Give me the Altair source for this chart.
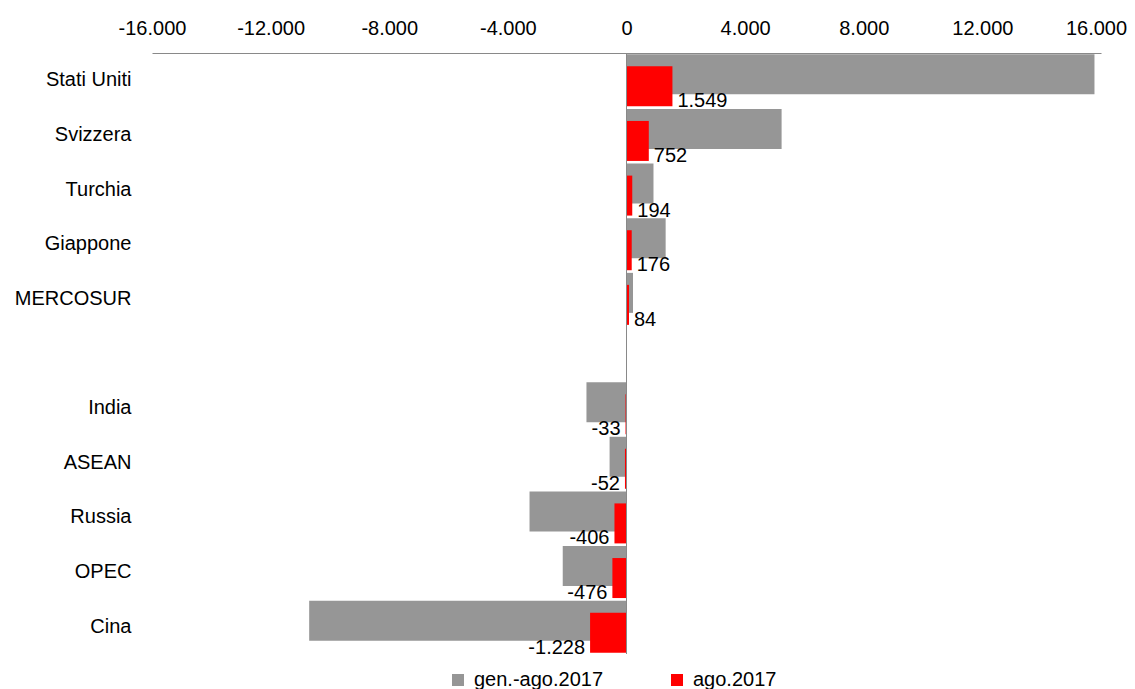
import altair as alt
import pandas as pd

categories = ["Stati Uniti", "Svizzera", "Turchia", "Giappone", "MERCOSUR", " ",
              "India", "ASEAN", "Russia", "OPEC", "Cina"]
gen_ago = [15780, 5230, 910, 1320, 220, None, -1350, -570, -3270, -2150, -10700]
ago = [1549, 752, 194, 176, 84, None, -33, -52, -406, -476, -1228]
series_names = ["gen.-ago.2017", "ago.2017"]
series_colors = ["#969696", "#ff0000"]
tick_values = [-16000, -12000, -8000, -4000, 0, 4000, 8000, 12000, 16000]

rows = []
for c, g, a in zip(categories, gen_ago, ago):
    if g is None:
        continue
    rows.append({"category": c, "series": series_names[0], "value": g})
    rows.append({"category": c, "series": series_names[1], "value": a})
df = pd.DataFrame(rows)

FONT = "Liberation Sans"
FS = 20

y = alt.Y("category:N",
          scale=alt.Scale(domain=categories, paddingInner=0, paddingOuter=0),
          axis=alt.Axis(title=None, ticks=False, domain=False, labelPadding=21,
                        labelFontSize=FS, labelColor="#000000", labelFont=FONT))
x = alt.X("value:Q",
          scale=alt.Scale(domain=[-16000, 16000], nice=False),
          axis=alt.Axis(orient="top", values=tick_values, format=",d", ticks=False,
                        grid=False, labelPadding=15, labelFontSize=FS,
                        labelFlush=False, labelOverlap=False,
                        labelOffset={"condition": {"test": "datum.value === 16000",
                                                   "value": -5},
                                     "value": 0},
                        labelColor="#000000", labelFont=FONT,
                        domainColor="#898989", domainWidth=1, title=None))
color = alt.Color("series:N",
                  scale=alt.Scale(domain=series_names, range=series_colors),
                  title=None,
                  legend=alt.Legend(orient="none", legendX=296, legendY=617,
                                    direction="horizontal", symbolType="square",
                                    symbolSize=144, symbolStrokeWidth=0,
                                    labelFontSize=FS, labelFont=FONT,
                                    labelColor="#000000", labelOffset=6,
                                    columnPadding=63))

base = alt.Chart(df)

gray_bars = base.transform_filter(alt.datum.series == series_names[0]).mark_bar(
    size=40, yOffset=-6).encode(x=x, x2=alt.datum(0), y=y, color=color)
red_bars = base.transform_filter(alt.datum.series == series_names[1]).mark_bar(
    size=40, yOffset=6).encode(x=x, x2=alt.datum(0), y=y, color=color)

zero_rule = alt.Chart(df).mark_rule(color="#898989", strokeWidth=1).encode(
    x=alt.datum(0))

pos_text = base.transform_filter(
    (alt.datum.series == series_names[1]) & (alt.datum.value >= 0)
).mark_text(align="left", baseline="middle", dx=5, dy=21, fontSize=FS,
            font=FONT, color="#000000").encode(
    x=x, y=y, text=alt.Text("value:Q", format=",d"))
neg_text = base.transform_filter(
    (alt.datum.series == series_names[1]) & (alt.datum.value < 0)
).mark_text(align="right", baseline="middle", dx=-5, dy=21, fontSize=FS,
            font=FONT, color="#000000").encode(
    x=x, y=y, text=alt.Text("value:Q", format=",d"))

chart = alt.layer(gray_bars, red_bars, zero_rule, pos_text, neg_text).properties(
    width=949, height=601,
    autosize=alt.AutoSizeParams(type="none"),
    padding={"left": 144, "top": 45, "right": 26, "bottom": 35},
).configure(
    font=FONT,
    locale=alt.Locale(number=alt.NumberLocale(decimal=",", thousands=".",
                                              grouping=[3], currency=["", " €"],
                                              minus="-")),
).configure_view(stroke=None)

chart.save("out.html", embed_options={"renderer": "svg", "actions": False})
